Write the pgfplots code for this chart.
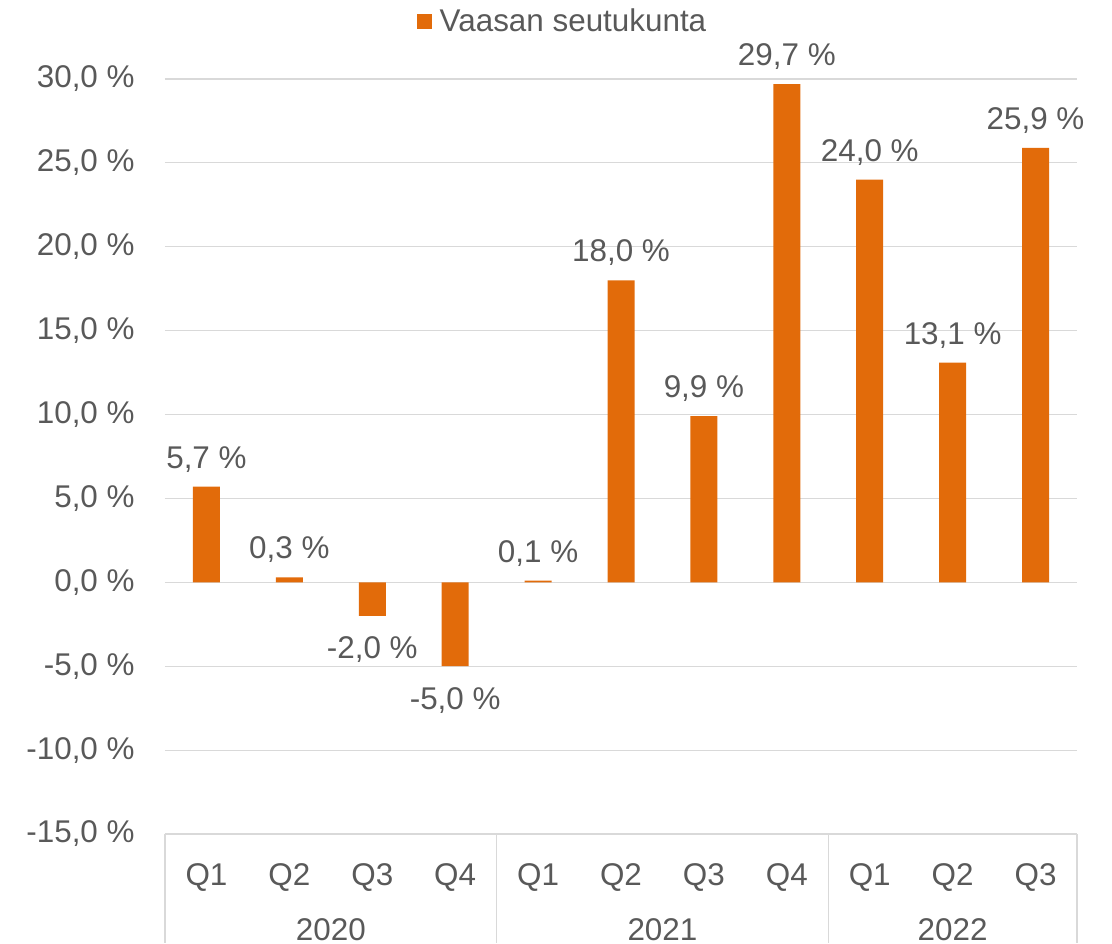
\documentclass[border=0pt]{standalone}
\usepackage{fontspec}
\setmainfont{Liberation Sans}
\usepackage{pgfplots}
\pgfplotsset{compat=1.18}
\usetikzlibrary{calc}
\definecolor{bar}{RGB}{226,107,10}
\definecolor{txt}{RGB}{89,89,89}
\definecolor{gridc}{RGB}{217,217,217}
\pgfplotstableread{
x y
0 5.7
1 0.3
4 0.1
5 18.0
6 9.9
7 29.7
8 24.0
9 13.1
10 25.9
}\pos
\pgfplotstableread{
x y
2 -2.0
3 -5.0
}\neg
\newcommand\fs{\fontsize{15.7pt}{18pt}\selectfont}
\begin{document}
\begin{tikzpicture}[font=\fs]
\begin{axis}[
  scale only axis, width=456pt, height=377.5pt,
  xmin=-0.5, xmax=10.5, ymin=-15, ymax=30,
  ytick={-15,-10,...,30},
  xtick={0,...,10},
  xticklabels={Q1,Q2,Q3,Q4,Q1,Q2,Q3,Q4,Q1,Q2,Q3},
  axis line style={draw=none},
  major tick length=0pt,
  ymajorgrids, grid style={gridc, line width=0.6pt},
  /pgf/number format/assume math mode=true,
  yticklabel={\pgfmathprintnumber[fixed,fixed zerofill,precision=1,use comma]{\tick}~\%},
  yticklabel style={anchor=east, inner sep=0pt, xshift=-15pt, text=txt, font=\fs},
  xticklabel style={anchor=center, inner sep=0pt, yshift=-21.5pt, text=txt, font=\fs},
  ybar, bar width=13.5pt,
  clip=false,
  legend style={at={(rel axis cs:0,1)}, anchor=center, xshift=199.25pt, yshift=28.5pt, draw=none, fill=none, inner sep=0pt, text=txt, font=\fs},
  legend image code/.code={\fill[bar] (0pt,-3.75pt) rectangle (7.5pt,3.75pt); \path (9.5pt,0pt);},
]
\addplot[fill=bar, draw=none, bar shift=0pt,
  nodes near coords={\pgfmathprintnumber[fixed,fixed zerofill,precision=1,use comma,assume math mode=true]{\pgfplotspointmeta}~\%},
  every node near coord/.append style={text=txt, inner sep=0pt, anchor=south, yshift=7pt, font=\fs}]
  table[x=x,y=y]{\pos};
\addlegendentry{Vaasan seutukunta}
\addplot[fill=bar, draw=none, bar shift=0pt, forget plot,
  nodes near coords={\pgfmathprintnumber[fixed,fixed zerofill,precision=1,use comma,assume math mode=true]{\pgfplotspointmeta}~\%},
  every node near coord/.append style={text=txt, inner sep=0pt, anchor=north, yshift=-10.3pt, font=\fs}]
  table[x=x,y=y]{\neg};
\foreach \xx in {-0.5,3.5,7.5,10.5}{
  \edef\tmp{\noexpand\draw[gridc, line width=0.6pt] (axis cs:\xx,-15) -- ++(0pt,-54.5pt);}\tmp
}
\node[text=txt] at (axis cs:1.5,-15) [yshift=-48pt] {2020};
\node[text=txt] at (axis cs:5.5,-15) [yshift=-48pt] {2021};
\node[text=txt] at (axis cs:9,-15) [yshift=-48pt] {2022};
\coordinate (sw) at (rel axis cs:0,0);
\coordinate (ne) at (rel axis cs:1,1);
\end{axis}
\pgfresetboundingbox
\path (sw) ++(-82.5pt,-54.5pt) rectangle ($(ne)+(17.5pt,39.5pt)$);
\end{tikzpicture}
\end{document}
